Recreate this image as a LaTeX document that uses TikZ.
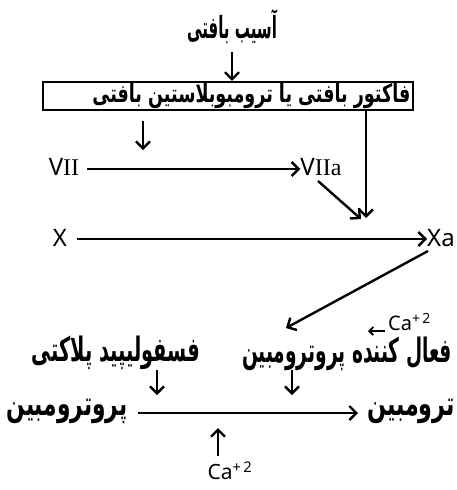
\documentclass[tikz,border=0pt]{standalone}
\usepackage{fontspec}
\usepackage{graphicx}
\setmainfont{Noto Sans}
\newfontfamily\fa[Script=Arabic]{DejaVu Sans}
\newfontfamily\rom{Liberation Serif}
\TeXXeTstate=1
\usetikzlibrary{arrows.meta}
\newcommand\fw[3]{\resizebox{#1}{#2\height}{#3}}
\tikzset{
  arr/.style={line width=2.4pt,-{Straight Barb[length=7pt,width=14pt,line width=2.4pt]}},
  ptxt/.style={inner sep=0pt,font=\fontsize{24}{26}\selectfont\fa\bfseries},
  ltxt/.style={inner sep=0pt,font=\fontsize{24}{26}\selectfont},
  frame/.style={draw,line width=2.2pt,minimum height=28pt,inner xsep=2.5pt,inner ysep=0pt}
}
\begin{document}
\begin{tikzpicture}[x=1pt,y=-1pt]
\useasboundingbox (0,0) rectangle (456,490);
\node[ptxt,font=\fontsize{21}{23}\selectfont\fa\bfseries] (injury) at (232,27) {\fw{90pt}{1.45}{\beginR آسیب بافتی\endR}};
\node[frame] (box) at (228,96) {\makebox[365pt][r]{\fw{318pt}{1.4}{\fontsize{18}{20}\selectfont\fa\bfseries\beginR فاکتور بافتی یا ترومبوبلاستین بافتی\endR}}};
\draw[arr] (232,52) -- (box.north -| injury);
\coordinate (c1s) at (143,121);
\coordinate (c1e) at (143,150);
\draw[arr] (c1s) -- (c1e);
\coordinate (c2) at (366,218);
\draw[arr] (box.south -| c2) -- (c2);
\node[ltxt] (vii) at (64,167) {V\rom{II}};
\node[ltxt] (viia) at (321,167) {V\rom{II}a};
\coordinate (a1s) at (87,169);
\draw[arr] (a1s) -- (viia.west |- a1s);
\coordinate (c3) at (361,219);
\draw[arr] (318,181) -- (c3);
\node[ltxt] (x) at (60,238) {X};
\node[ltxt] (xa) at (441,238) {Xa};
\coordinate (a2s) at (77,239);
\draw[arr] (a2s) -- (xa.west |- a2s);
\node[ptxt] (act) at (347,354) {\fw{210pt}{1.4}{\beginR فعال کننده پروترومبین\endR}};
\node[ptxt] (phos) at (116,353) {\fw{168pt}{1.4}{\beginR فسفولیپید پلاکتی\endR}};
\coordinate (c4) at (286,328);
\draw[arr] (428,251) -- (c4);
\node[inner sep=0pt,anchor=west,font=\fontsize{20}{22}\selectfont] (ca1) at (388,322) {Ca\textsuperscript{+\,2}};
\coordinate (c5) at (368,331);
\draw[line width=1.8pt,-{Straight Barb[length=4pt,width=8pt,line width=1.8pt]}] (385,331) -- (c5);
\coordinate (c6s) at (157,370);
\coordinate (c6e) at (157,395);
\draw[arr] (c6s) -- (c6e);
\coordinate (c7s) at (292,370);
\coordinate (c7e) at (292,395);
\draw[arr] (c7s) -- (c7e);
\node[ptxt] (pro) at (67,411) {\fw{121pt}{1.4}{\beginR پروترومبین\endR}};
\node[ptxt] (thr) at (411,411) {\fw{88pt}{1.4}{\beginR ترومبین\endR}};
\coordinate (a3s) at (138,413);
\draw[arr] (a3s) -- (358,413);
\node[inner sep=0pt,font=\fontsize{21}{23}\selectfont] (ca2) at (230,471) {Ca\textsuperscript{+\,2}};
\coordinate (c8) at (218,428);
\draw[arr] (218,456) -- (c8);
\end{tikzpicture}
\end{document}
